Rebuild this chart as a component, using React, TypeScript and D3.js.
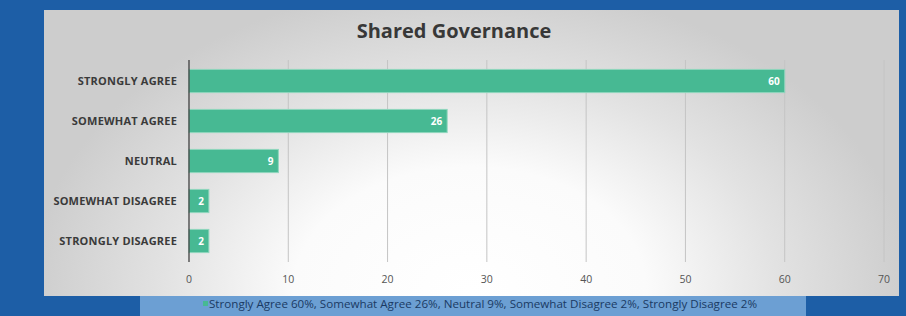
import { useEffect, useRef } from 'react'
import * as d3 from 'd3'

const categories = [
  'STRONGLY AGREE',
  'SOMEWHAT AGREE',
  'NEUTRAL',
  'SOMEWHAT DISAGREE',
  'STRONGLY DISAGREE',
]
const values = [60, 26, 9, 2, 2]
const xTicks = [0, 10, 20, 30, 40, 50, 60, 70]
const legendText =
  'Strongly Agree 60%, Somewhat Agree 26%, Neutral 9%, Somewhat Disagree 2%, Strongly Disagree 2%'

const App = () => {
  const svgRef = useRef<SVGSVGElement | null>(null)

  useEffect(() => {
    if (!svgRef.current) return
    const svg = d3.select(svgRef.current)
    svg.selectAll('*').remove()

    const width = 906
    const height = 316
    const font = "'Open Sans', 'Noto Sans', sans-serif"

    // blue page background
    svg.append('rect').attr('width', width).attr('height', height).attr('fill', '#1d5ea6')

    // radial gradient for the panel, white near the bottom centre
    const defs = svg.append('defs')
    const grad = defs
      .append('radialGradient')
      .attr('id', 'panelGrad')
      .attr('gradientUnits', 'userSpaceOnUse')
      .attr('cx', 470)
      .attr('cy', 290)
      .attr('r', 440)
      .attr('gradientTransform', 'translate(470,290) scale(1,0.7) translate(-470,-290)')
    grad.append('stop').attr('offset', '0%').attr('stop-color', '#ffffff')
    grad.append('stop').attr('offset', '40%').attr('stop-color', '#fbfbfb')
    grad.append('stop').attr('offset', '70%').attr('stop-color', '#e2e2e2')
    grad.append('stop').attr('offset', '100%').attr('stop-color', '#cdcdcd')

    svg
      .append('rect')
      .attr('x', 44)
      .attr('y', 10)
      .attr('width', 855)
      .attr('height', 286)
      .attr('fill', 'url(#panelGrad)')

    // title
    svg
      .append('text')
      .attr('x', 454)
      .attr('y', 38)
      .attr('text-anchor', 'middle')
      .attr('font-family', font)
      .attr('font-weight', 700)
      .attr('font-size', '20px')
      .attr('fill', '#383838')
      .text('Shared Governance')

    const x = d3.scaleLinear().domain([0, 70]).range([189, 884])
    const y = d3.scaleBand<string>().domain(categories).range([61, 261]).paddingInner(0.42).paddingOuter(0.21)

    // gridlines
    svg
      .append('g')
      .selectAll('line')
      .data(xTicks.slice(1))
      .join('line')
      .attr('x1', (d) => x(d))
      .attr('x2', (d) => x(d))
      .attr('y1', 60)
      .attr('y2', 262)
      .attr('stroke', '#c4c4c4')
      .attr('stroke-width', 1)

    // bars
    svg
      .append('g')
      .selectAll('rect')
      .data(values)
      .join('rect')
      .attr('x', x(0))
      .attr('y', (_, i) => y(categories[i])!)
      .attr('width', (d) => x(d) - x(0))
      .attr('height', y.bandwidth())
      .attr('fill', '#47b993')
      .attr('stroke', '#8fd6bd')
      .attr('stroke-width', 1)

    // value labels
    svg
      .append('g')
      .selectAll('text')
      .data(values)
      .join('text')
      .attr('x', (d) => x(d) - 5)
      .attr('y', (_, i) => y(categories[i])! + y.bandwidth() / 2 + 4)
      .attr('text-anchor', 'end')
      .attr('font-family', font)
      .attr('font-weight', 700)
      .attr('font-size', '10px')
      .attr('fill', '#ffffff')
      .text((d) => d)

    // category axis
    svg
      .append('line')
      .attr('x1', x(0))
      .attr('x2', x(0))
      .attr('y1', 60)
      .attr('y2', 262)
      .attr('stroke', '#333333')
      .attr('stroke-width', 1.2)

    svg
      .append('g')
      .selectAll('text')
      .data(categories)
      .join('text')
      .attr('x', 177)
      .attr('y', (d) => y(d)! + y.bandwidth() / 2 + 4)
      .attr('text-anchor', 'end')
      .attr('font-family', font)
      .attr('font-weight', 700)
      .attr('font-size', '11px')
      .attr('letter-spacing', '0.2px')
      .attr('fill', '#3a3a3a')
      .text((d) => d)

    // x tick labels
    svg
      .append('g')
      .selectAll('text')
      .data(xTicks)
      .join('text')
      .attr('x', (d) => x(d))
      .attr('y', 283)
      .attr('text-anchor', 'middle')
      .attr('font-family', font)
      .attr('font-size', '10.5px')
      .attr('fill', '#555555')
      .text((d) => d)

    // legend strip
    svg
      .append('rect')
      .attr('x', 140)
      .attr('y', 296)
      .attr('width', 666)
      .attr('height', 20)
      .attr('fill', '#6c9fd3')
    svg
      .append('rect')
      .attr('x', 203)
      .attr('y', 301)
      .attr('width', 5)
      .attr('height', 5)
      .attr('fill', '#47b993')
    svg
      .append('text')
      .attr('x', 209)
      .attr('y', 308)
      .attr('font-family', font)
      .attr('font-size', '11.5px')
      .attr('textLength', 548)
      .attr('lengthAdjust', 'spacingAndGlyphs')
      .attr('fill', '#1a3a63')
      .text(legendText)
  }, [])

  return <svg ref={svgRef} width={906} height={316} style={{ display: 'block', position: 'absolute', left: 0, top: 0 }}></svg>
}

export default App
